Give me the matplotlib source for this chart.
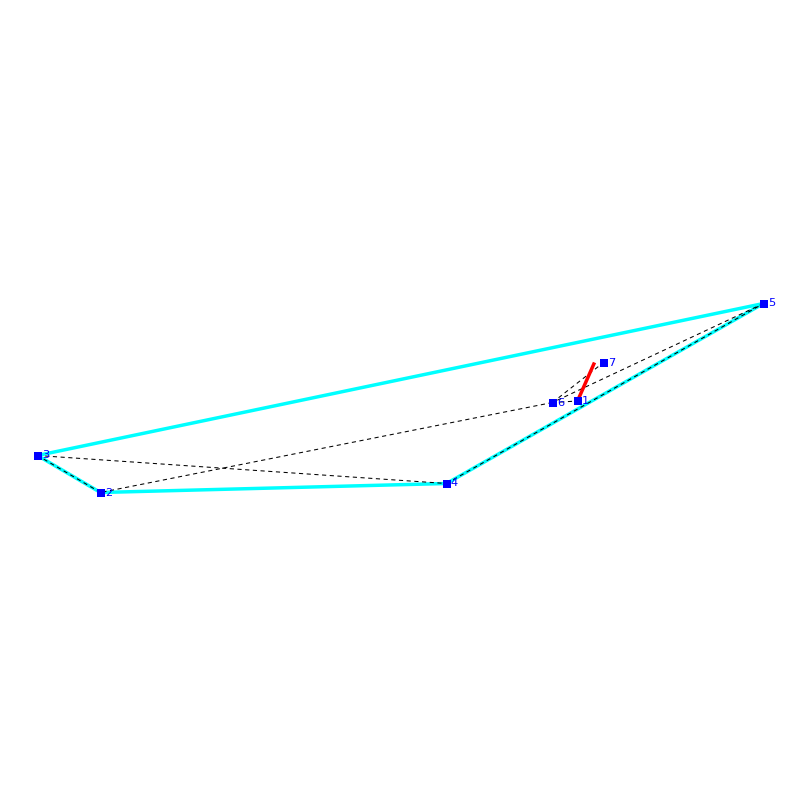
"""Route graph: hull edges in cyan, tour edges dashed, one red segment."""

import matplotlib

matplotlib.use("Agg")
import matplotlib.pyplot as plt

# Node positions (y counts downward).
NODE_IDS = [1, 2, 3, 4, 5, 6, 7]
NODE_X = [577.5, 100.5, 37.5, 446.5, 763.5, 552.5, 603.5]
NODE_Y = [401.0, 492.5, 455.5, 483.5, 303.5, 402.5, 362.5]

# Edges as pairs of node ids.
HULL_EDGES = [(3, 5), (3, 2), (2, 4), (4, 5)]
DASHED_EDGES = [(2, 3), (3, 4), (4, 5), (5, 6), (6, 7), (6, 1), (6, 2)]

# The red segment starts at node 1 and stops short of node 7.
RED_X = [577.5, 594.5]
RED_Y = [401.0, 362.5]

BLUE = "#0000FF"
CYAN = "#00FFFF"
RED = "#FF0000"
BLACK = "#000000"


def draw_edges(ax, edges, **style):
    """Draw each edge as its own line between two nodes."""
    for start, end in edges:
        i, j = NODE_IDS.index(start), NODE_IDS.index(end)
        ax.plot([NODE_X[i], NODE_X[j]], [NODE_Y[i], NODE_Y[j]], **style)


def main():
    fig = plt.figure(figsize=(8, 8), dpi=100)
    ax = fig.add_axes([0, 0, 1, 1])
    ax.set_xlim(0, 800)
    ax.set_ylim(800, 0)
    ax.axis("off")

    draw_edges(ax, HULL_EDGES, color=CYAN, linewidth=2.5, solid_capstyle="butt", zorder=1)
    draw_edges(ax, DASHED_EDGES, color=BLACK, linewidth=0.75, dashes=(4, 3.4), zorder=2)
    ax.plot(RED_X, RED_Y, color=RED, linewidth=2.5, solid_capstyle="butt", zorder=3)

    ax.plot(NODE_X, NODE_Y, linestyle="none", marker="s", markersize=5.4,
            markeredgewidth=0, color=BLUE, zorder=4)

    for node_id, x, y in zip(NODE_IDS, NODE_X, NODE_Y):
        ax.annotate(str(node_id), (x, y), xytext=(3.2, 0), textcoords="offset points",
                    color=BLUE, fontsize=8.2, ha="left", va="center", zorder=5)

    fig.savefig("out.png", dpi=100, facecolor="white")
    plt.close(fig)


if __name__ == "__main__":
    main()
